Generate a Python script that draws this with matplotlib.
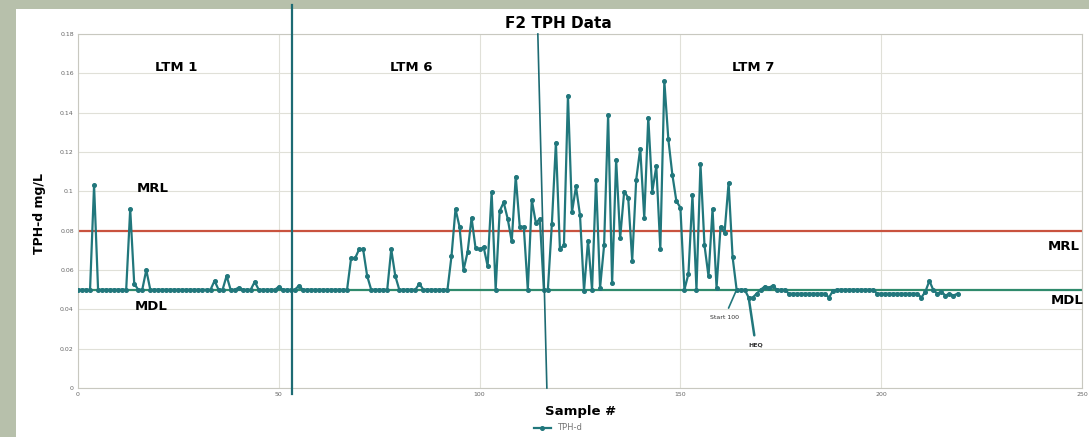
import numpy as np
import matplotlib
matplotlib.use("Agg")
import matplotlib.pyplot as plt
from matplotlib.patches import Rectangle

# TPH-d results (mg/L) by sample number
tph = [
    0.05, 0.05, 0.05, 0.05, 0.103, 0.05, 0.05, 0.05, 0.05, 0.05,
    0.05, 0.05, 0.05, 0.091, 0.053, 0.05, 0.05, 0.06, 0.05, 0.05,
    0.05, 0.05, 0.05, 0.05, 0.05, 0.05, 0.05, 0.05, 0.05, 0.05,
    0.05, 0.05, 0.05, 0.05, 0.0545, 0.05, 0.05, 0.057, 0.05, 0.05,
    0.051, 0.05, 0.05, 0.05, 0.054, 0.05, 0.05, 0.05, 0.05, 0.05,
    0.0515, 0.05, 0.05, 0.05, 0.05, 0.052, 0.05, 0.05, 0.05, 0.05,
    0.05, 0.05, 0.05, 0.05, 0.05, 0.05, 0.05, 0.05, 0.066, 0.066,
    0.0705, 0.0705, 0.057, 0.05, 0.05, 0.05, 0.05, 0.05, 0.0705, 0.057,
    0.05, 0.05, 0.05, 0.05, 0.05, 0.053, 0.05, 0.05, 0.05, 0.05,
    0.05, 0.05, 0.05, 0.067, 0.091, 0.082, 0.060, 0.069, 0.0865, 0.071,
    0.0705, 0.0717, 0.062, 0.0995, 0.050, 0.090, 0.0944, 0.086, 0.0745, 0.1075,
    0.082, 0.082, 0.050, 0.0956, 0.084, 0.086, 0.05, 0.05, 0.0836, 0.1247,
    0.0708, 0.0725, 0.1486, 0.0893, 0.1025, 0.0879, 0.0494, 0.075, 0.050, 0.106,
    0.051, 0.0725, 0.1388, 0.0533, 0.116, 0.0762, 0.0999, 0.0968, 0.0648, 0.106,
    0.1217, 0.0865, 0.1375, 0.0999, 0.1127, 0.0708, 0.156, 0.1264, 0.1084, 0.095,
    0.0917, 0.050, 0.058, 0.098, 0.050, 0.1139, 0.0725, 0.0568, 0.091, 0.051,
    0.082, 0.079, 0.1043, 0.0665, 0.050, 0.05, 0.05, 0.046, 0.046, 0.048,
    0.05, 0.0516, 0.051, 0.052, 0.05, 0.05, 0.05, 0.048, 0.048, 0.048,
    0.048, 0.048, 0.048, 0.048, 0.048, 0.048, 0.048, 0.046, 0.0495, 0.05,
    0.05, 0.05, 0.05, 0.05, 0.05, 0.05, 0.05, 0.05, 0.05, 0.048,
    0.048, 0.048, 0.048, 0.048, 0.048, 0.048, 0.048, 0.048, 0.048, 0.048,
    0.046, 0.049, 0.0545, 0.0497, 0.048, 0.049, 0.047, 0.048, 0.047, 0.048,
]
samples = np.arange(len(tph))

mrl = 0.08
mdl = 0.05

# LTM period labels and the hand-drawn dividers between them
periods = ["LTM 1", "LTM 6", "LTM 7"]
period_x = [24.5, 83, 168]
divider1 = ([53.25, 53.25], [-0.003, 0.195])
divider2 = ([114.5, 116.75], [0.18, 0.0])

x_ticks = [0, 50, 100, 150, 200, 250]
y_ticks = [0, 0.02, 0.04, 0.06, 0.08, 0.1, 0.12, 0.14, 0.16, 0.18]
y_labels = ["0", "0.02", "0.04", "0.06", "0.08", "0.1", "0.12", "0.14", "0.16", "0.18"]

teal = "#21777c"
lab = dict(ha="center", va="center", fontsize=9.5, fontweight="bold")

fig = plt.figure(figsize=(10.89, 4.37), dpi=100, facecolor="#b7c0ab")
# white sheet over the greenish paper edge
fig.patches.append(Rectangle((16 / 1089, 0), 1, 1 - 9 / 437, transform=fig.transFigure,
                             facecolor="white", edgecolor="none", zorder=-5))

ax = fig.add_axes([78 / 1089, 1 - 388 / 437, (1082 - 78) / 1089, (388 - 34) / 437])
ax.set_zorder(1)
ax.set_facecolor("white")
ax.set_xlim(0, 250)
ax.set_ylim(0, 0.18)
ax.set_xticks(x_ticks)
ax.set_yticks(y_ticks)
ax.set_yticklabels(y_labels)
ax.tick_params(labelsize=4.5, colors="#666666", length=0, pad=3)
ax.grid(True, color="#e0e0d8", lw=0.8)
for s in ax.spines.values():
    s.set_color("#c8c8c0")
    s.set_linewidth(0.8)

ax.axhline(mrl, color="#c9533f", lw=1.6, zorder=2)
ax.axhline(mdl, color="#2f8a6c", lw=1.6, zorder=2)

line, = ax.plot(samples, tph, color=teal, lw=1.6, marker="o", ms=2.6,
                label="TPH-d", zorder=3)

ax.plot(*divider1, color="#1d6b73", lw=1.6, clip_on=False, zorder=4)
ax.plot(*divider2, color="#1d6b73", lw=1.2, clip_on=False, zorder=4)

for name, px in zip(periods, period_x):
    ax.text(px, 0.163, name, **lab)

ax.text(18.5, 0.1016, "MRL", **lab)
ax.text(18.25, 0.0416, "MDL", **lab)
ax.text(245.5, 0.0718, "MRL", **lab)
ax.text(246.25, 0.0446, "MDL", **lab)

ax.annotate("Start 100", xy=(164, tph[164]), xytext=(161, 0.036), fontsize=4.5,
            ha="center", va="center", color="#333333",
            arrowprops=dict(arrowstyle="-", color=teal, lw=1.2, shrinkA=3, shrinkB=0))
ax.annotate("HEQ", xy=(167, tph[167]), xytext=(168.75, 0.022), fontsize=4.5,
            ha="center", va="center", color="#333333", fontweight="bold",
            arrowprops=dict(arrowstyle="-", color=teal, lw=1.8, shrinkA=3, shrinkB=0))

fig.text(558 / 1089, 1 - 24 / 437, "F2 TPH Data", ha="center", va="center",
         fontsize=11, fontweight="bold")
fig.text(40 / 1089, 1 - 213 / 437, "TPH-d mg/L", ha="center", va="center",
         rotation=90, fontsize=9, fontweight="bold")
fig.text(581 / 1089, 1 - 412 / 437, "Sample #", ha="center", va="center",
         fontsize=9.5, fontweight="bold")

leg = fig.legend(handles=[line], loc="center", bbox_to_anchor=(558 / 1089, 1 - 428 / 437),
                 frameon=False, fontsize=6, handlelength=2, borderpad=0)
for t in leg.get_texts():
    t.set_color("#777777")

fig.savefig("out.png", dpi=100, facecolor=fig.get_facecolor())
